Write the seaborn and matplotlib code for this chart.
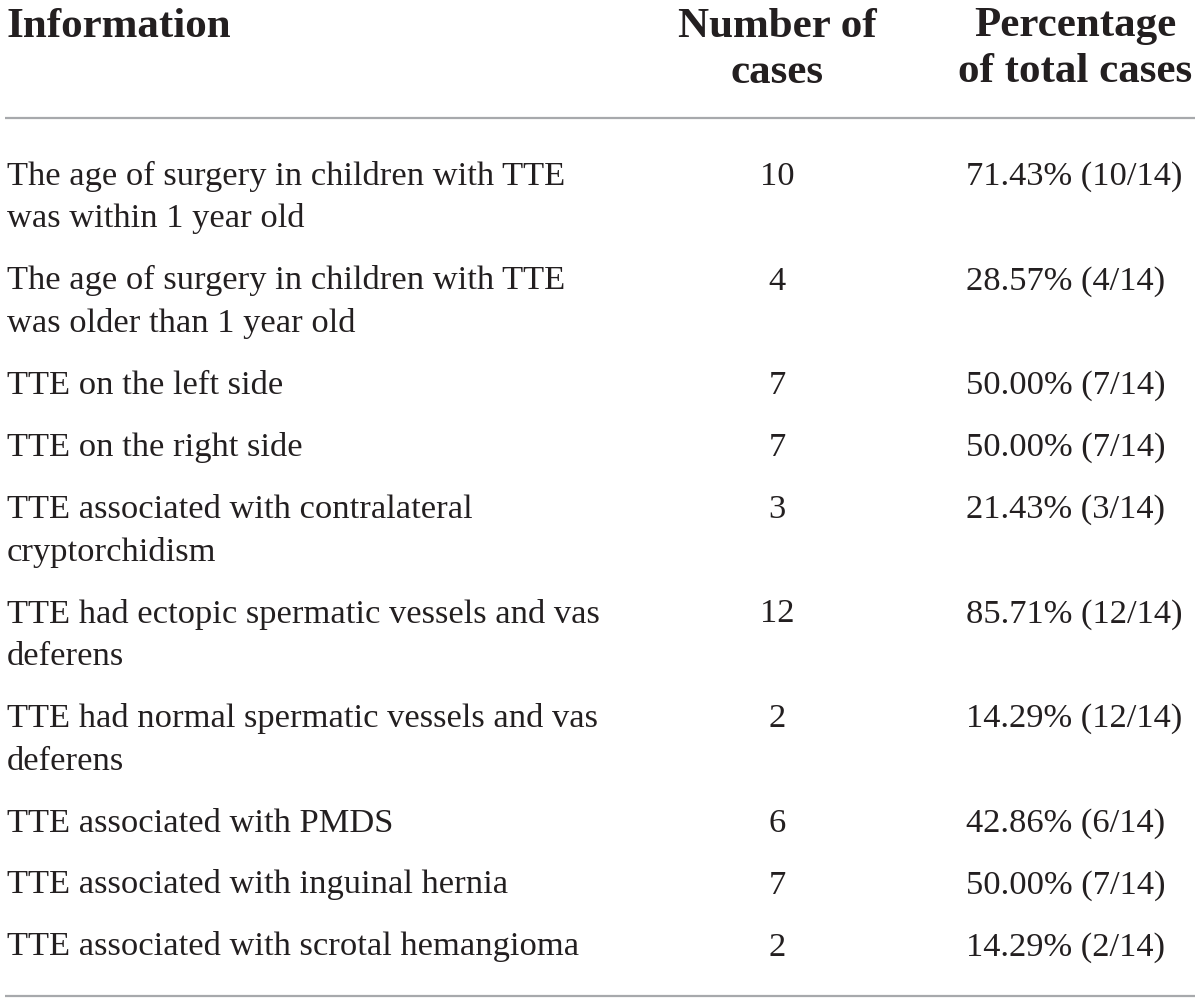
import matplotlib
matplotlib.use("Agg")
import matplotlib.pyplot as plt
import seaborn as sns

sns.set_theme(style="white")
plt.rcParams['font.family'] = ['Liberation Serif', 'DejaVu Serif']

# ---- data ----
header_info = "Information"
header_count = ["Number of", "cases"]
header_pct = ["Percentage", "of total cases"]

info = [
    ["The age of surgery in children with TTE", "was within 1 year old"],
    ["The age of surgery in children with TTE", "was older than 1 year old"],
    ["TTE on the left side"],
    ["TTE on the right side"],
    ["TTE associated with contralateral", "cryptorchidism"],
    ["TTE had ectopic spermatic vessels and vas", "deferens"],
    ["TTE had normal spermatic vessels and vas", "deferens"],
    ["TTE associated with PMDS"],
    ["TTE associated with inguinal hernia"],
    ["TTE associated with scrotal hemangioma"],
]
counts = [10, 4, 7, 7, 3, 12, 2, 6, 7, 2]
percentages = ["71.43% (10/14)", "28.57% (4/14)", "50.00% (7/14)", "50.00% (7/14)",
               "21.43% (3/14)", "85.71% (12/14)", "14.29% (12/14)", "42.86% (6/14)",
               "50.00% (7/14)", "14.29% (2/14)"]

# ---- layout ----
W, H = 1200, 1001
fig = plt.figure(figsize=(W / 100, H / 100), dpi=100)
ax = fig.add_axes([0, 0, 1, 1])
ax.set_xlim(0, W)
ax.set_ylim(H, 0)
ax.axis("off")
fig.patch.set_facecolor("white")

x_info = 7
x_count = 777
x_pct_data = 966
x_pct_head = 1075
body_fs = 24.8
head_fs = 31
txt_color = "#231f20"

# header
ax.text(x_info, 37, header_info, fontsize=head_fs, fontweight="bold",
        ha="left", va="baseline", color=txt_color)
for i, s in enumerate(header_count):
    ax.text(x_count, 37 + i * 46, s, fontsize=head_fs, fontweight="bold",
            ha="center", va="baseline", color=txt_color)
for i, s in enumerate(header_pct):
    ax.text(x_pct_head, 36 + i * 46, s, fontsize=head_fs, fontweight="bold",
            ha="center", va="baseline", color=txt_color)

# rules
rule_color = "#a7a9ac"
ax.hlines([118, 996], 5, 1195, colors=rule_color, linewidth=1.6)

# body
line_h = 42.5
gap = 62
y = 185
for lines, c, p in zip(info, counts, percentages):
    for j, s in enumerate(lines):
        ax.text(x_info, y + j * line_h, s, fontsize=body_fs, ha="left",
                va="baseline", color=txt_color)
    ax.text(x_count, y, str(c), fontsize=body_fs, ha="center",
            va="baseline", color=txt_color)
    ax.text(x_pct_data, y, p, fontsize=body_fs, ha="left",
            va="baseline", color=txt_color)
    y += (len(lines) - 1) * line_h + gap

fig.savefig("out.png", dpi=100, facecolor="white")
